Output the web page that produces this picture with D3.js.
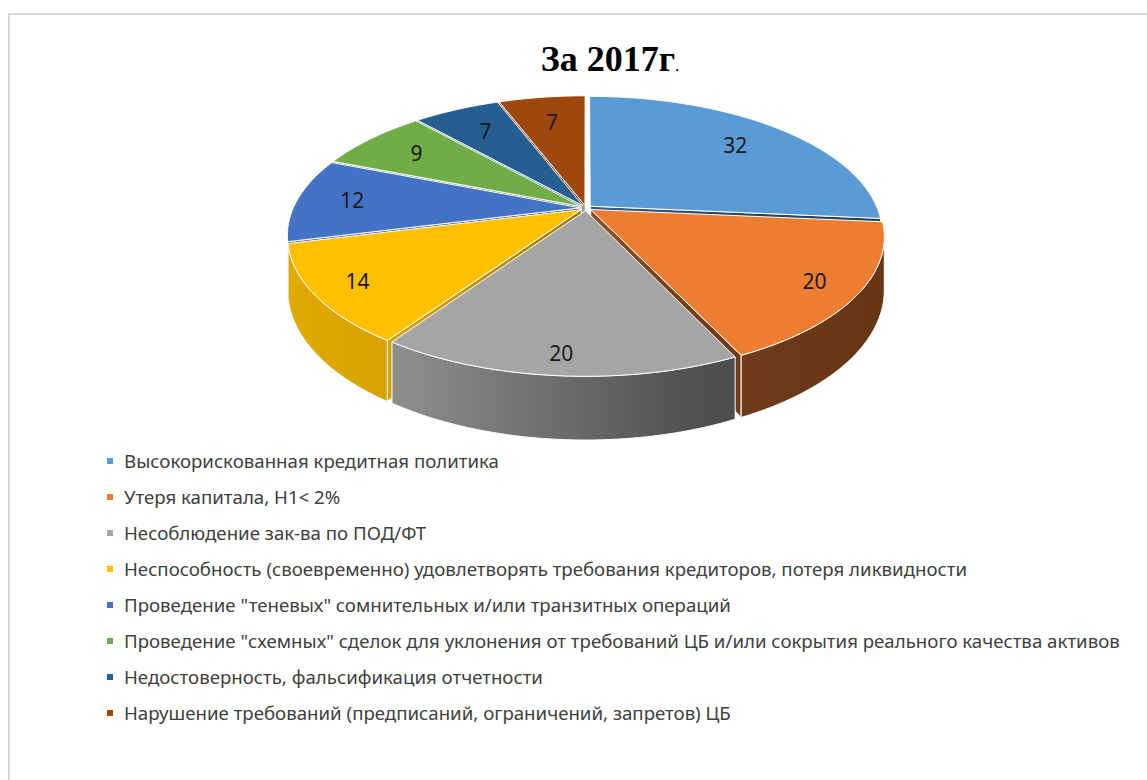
<!DOCTYPE html>
<html lang="ru">
<head>
<meta charset="UTF-8">
<title>За 2017г.</title>
<script src="https://cdn.jsdelivr.net/npm/d3@7/dist/d3.min.js"></script>
<style>
  body { margin: 0; background: #fff; }
  svg { display: block; }
</style>
</head>
<body>
<svg width="1147" height="780"></svg>
<script>
// данные диаграммы
var categories = [
  'Высокорискованная кредитная политика',
  'Утеря капитала, Н1< 2%',
  'Несоблюдение зак-ва по ПОД/ФТ',
  'Неспособность (своевременно) удовлетворять требования кредиторов, потеря ликвидности',
  'Проведение "теневых" сомнительных и/или транзитных операций',
  'Проведение "схемных" сделок для уклонения от требований ЦБ и/или сокрытия реального качества активов',
  'Недостоверность, фальсификация отчетности',
  'Нарушение требований (предписаний, ограничений, запретов) ЦБ'
];
var values = [32, 20, 20, 14, 12, 9, 7, 7];
var colors = ['#5B9BD5', '#ED7D31', '#A5A5A5', '#FFC000', '#4472C4', '#70AD47', '#255E91', '#9E480E'];

var svg = d3.select('svg');
var font = "'Noto Sans', 'Open Sans', sans-serif";

// рамка
svg.append('rect')
  .attr('x', 9).attr('y', 14).attr('width', 1150).attr('height', 780)
  .attr('fill', 'none').attr('stroke', '#d9d9d9').attr('stroke-width', 2);

// заголовок
var title = svg.append('text')
  .attr('x', 610).attr('y', 71)
  .attr('text-anchor', 'middle')
  .attr('font-family', "'Liberation Serif', 'Times New Roman', serif")
  .attr('fill', '#000');
title.append('tspan').attr('font-size', 36).attr('font-weight', 'bold').text('За 2017г');
title.append('tspan').attr('font-size', 17).text('.');

// параметры "3D" проекции
var cx = 586, cy = 208;   // вершина круга
var R = 287, Ry = 132;     // радиусы
var k = 0.196;             // перспектива
var H = 51;                // толщина
var explode = 0.02;

function proj(u, v, h) {
  var s = 1 / (1 - k * v);
  return [cx + R * u * s, cy + (Ry * v + H * h) * s];
}

var pie = d3.pie().sort(null).value(function (d) { return d; });
var arcs = pie(values);

// градиенты для боковых стенок
var defs = svg.append('defs');
function shade(c, f) {
  var r = d3.rgb(c);
  return d3.rgb(r.r * f, r.g * f, r.b * f).toString();
}
colors.forEach(function (c, i) {
  var g = defs.append('linearGradient')
    .attr('id', 'side' + i)
    .attr('gradientUnits', 'userSpaceOnUse')
    .attr('x1', cx - R * 1.02).attr('x2', cx + R * 1.02)
    .attr('y1', 0).attr('y2', 0);
  [[0, 0.88], [0.2, 0.84], [0.7, 0.48], [1, 0.43]].forEach(function (s) {
    g.append('stop').attr('offset', s[0]).attr('stop-color', shade(c, s[1]));
  });
});

var faces = [];
var tops = [];
var visA = Math.acos(-k), visB = 2 * Math.PI - Math.acos(-k);

arcs.forEach(function (a, i) {
  var mid = (a.startAngle + a.endAngle) / 2;
  var ox = explode * Math.sin(mid), oy = -explode * Math.cos(mid);
  function rim(t, h) { return proj(ox + Math.sin(t), oy - Math.cos(t), h); }
  function apex(h) { return proj(ox, oy, h); }
  function arcPts(t0, t1, h) {
    var n = Math.max(2, Math.ceil(Math.abs(t1 - t0) / 0.01));
    return d3.range(n + 1).map(function (j) { return rim(t0 + (t1 - t0) * j / n, h); });
  }

  // верхняя грань
  tops.push({ i: i, pts: [apex(0)].concat(arcPts(a.startAngle, a.endAngle, 0)) });

  // внешняя стенка (только передняя часть)
  var b0 = Math.max(a.startAngle, visA), b1 = Math.min(a.endAngle, visB);
  if (b1 > b0) {
    var top = arcPts(b0, b1, 0), bot = arcPts(b0, b1, 1).reverse();
    var bm = (b0 + b1) / 2;
    faces.push({ i: i, depth: oy - Math.cos(bm), pts: top.concat(bot) });
  }
  // радиальные грани
  if (Math.sin(a.endAngle) > 0.01) {
    faces.push({ i: i, depth: oy - Math.cos(a.endAngle) * 0.5,
      pts: [apex(0), rim(a.endAngle, 0), rim(a.endAngle, 1), apex(1)] });
  }
  if (Math.sin(a.startAngle) < -0.01) {
    faces.push({ i: i, depth: oy - Math.cos(a.startAngle) * 0.5,
      pts: [apex(0), rim(a.startAngle, 0), rim(a.startAngle, 1), apex(1)] });
  }
});

faces.sort(function (p, q) { return p.depth - q.depth; });

var line = d3.line().curve(d3.curveLinearClosed);
var gPie = svg.append('g');

gPie.selectAll('path.side')
  .data(faces)
  .enter()
  .append('path')
  .attr('class', 'side')
  .attr('d', function (d) { return line(d.pts); })
  .attr('fill', function (d) { return 'url(#side' + d.i + ')'; })
  .attr('stroke', '#fff')
  .attr('stroke-width', 1)
  .attr('stroke-linejoin', 'round');

gPie.selectAll('path.top')
  .data(tops)
  .enter()
  .append('path')
  .attr('class', 'top')
  .attr('d', function (d) { return line(d.pts); })
  .attr('fill', function (d) { return colors[d.i]; })
  .attr('stroke', '#fff')
  .attr('stroke-width', 1)
  .attr('stroke-linejoin', 'round');

// подписи значений
gPie.selectAll('text.val')
  .data(arcs)
  .enter()
  .append('text')
  .attr('class', 'val')
  .attr('transform', function (d) {
    var mid = (d.startAngle + d.endAngle) / 2;
    var v0 = -Math.cos(mid);
    var r = 0.83 + 0.08 * v0;
    var p = proj(r * Math.sin(mid), -r * Math.cos(mid), 0);
    return 'translate(' + p[0] + ',' + p[1] + ')';
  })
  .attr('text-anchor', 'middle')
  .attr('dy', '0.35em')
  .attr('font-family', font)
  .attr('font-size', 21)
  .attr('fill', '#1a1a1a')
  .text(function (d) { return d.data; });

// легенда
var legY = d3.scaleBand().domain(d3.range(categories.length)).range([443, 731]);
var leg = svg.append('g');
var items = leg.selectAll('g')
  .data(categories)
  .enter()
  .append('g')
  .attr('transform', function (d, i) { return 'translate(0,' + (legY(i) + legY.bandwidth() / 2) + ')'; });

items.append('rect')
  .attr('x', 107).attr('y', -3).attr('width', 6).attr('height', 6)
  .attr('fill', function (d, i) { return colors[i]; });

var labels = items.append('text')
  .attr('x', 124)
  .attr('dy', '0.35em')
  .attr('font-family', font)
  .attr('font-size', 16)
  .attr('fill', '#404040')
  .text(function (d) { return d; });

// подгоняем размер шрифта под ширину самой длинной строки
var maxW = d3.max(labels.nodes(), function (n) { return n.getComputedTextLength(); });
var fs = Math.min(19, 16 * 997 / maxW);
labels.attr('font-size', fs);
</script>
</body>
</html>
